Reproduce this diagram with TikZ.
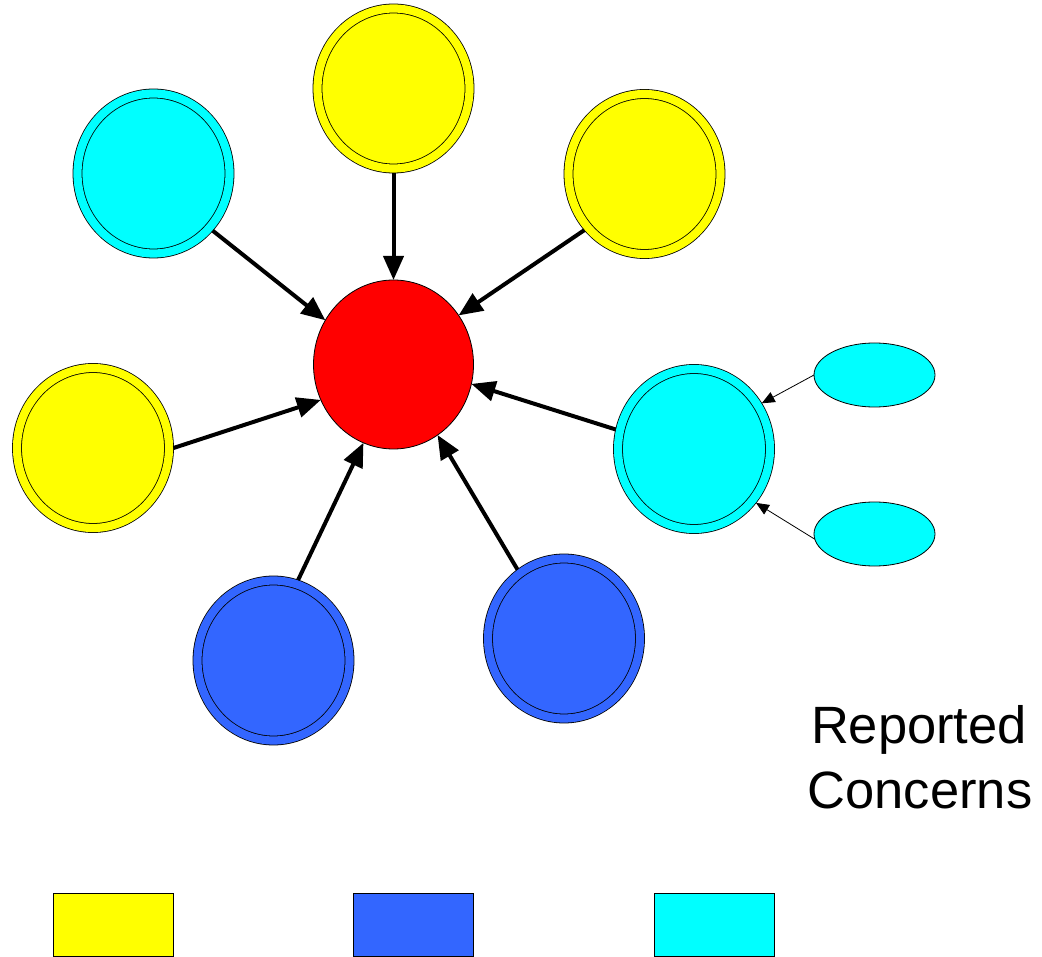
\documentclass[tikz,border=0pt]{standalone}
\usepackage{fontspec}
\setmainfont{Liberation Sans}
\usetikzlibrary{shapes.geometric,arrows.meta}
\definecolor{cyellow}{HTML}{FFFF00}
\definecolor{ccyan}{HTML}{00FFFF}
\definecolor{cblue}{HTML}{3366FF}
\definecolor{cred}{HTML}{FF0000}
\tikzset{
  ring/.style={ellipse, draw=black, line width=0.8pt, double=#1, double distance=8.2pt,
    fill=#1, minimum width=152pt, minimum height=160pt, inner sep=0pt, outer sep=4.5pt},
  core/.style={ellipse, draw=black, line width=0.8pt, fill=cred,
    minimum width=160pt, minimum height=169pt, inner sep=0pt, outer sep=0pt},
  bubble/.style={ellipse, draw=black, line width=0.8pt, fill=ccyan,
    minimum width=121pt, minimum height=64pt, inner sep=0pt, outer sep=0pt},
  legendbox/.style={rectangle, draw=black, line width=0.8pt, fill=#1,
    minimum width=120pt, minimum height=63pt, inner sep=0pt, outer sep=0pt},
  feed/.style={line width=4pt, -{Triangle[length=24pt,width=20pt]}},
  subfeed/.style={line width=0.8pt, -{Triangle[length=13pt,width=11pt]}},
  caption/.style={font=\fontsize{52.5}{60}\selectfont, inner sep=0pt, anchor=base},
}
\begin{document}
\begin{tikzpicture}[x=1pt,y=-1pt]
\useasboundingbox (0,0) rectangle (1042,957);

% central concern and the sources around it
\node[core] (hub) at (393.5,364.5) {};
\node[ring=cyellow] (top) at (393.5,88.5) {};
\node[ring=ccyan] (topleft) at (153.5,173.5) {};
\node[ring=cyellow] (topright) at (644.5,174) {};
\node[ring=cyellow] (left) at (93,448) {};
\node[ring=ccyan] (right) at (694,449) {};
\node[ring=cblue] (botleft) at (273.5,660.5) {};
\node[ring=cblue] (botright) at (564,638.5) {};

% small feeders of the right-hand source
\node[bubble] (feedA) at (874.5,375) {};
\node[bubble] (feedB) at (874.5,534) {};

% arrows into the centre
\draw[feed] (top.-90) -- (hub.90);
\draw[feed] (topleft.-44.5) -- (hub.147.8);
\draw[feed] (topright.223.4) -- (hub.37);
\draw[feed] (left.-0.7) -- (hub.206.4);
\draw[feed] (right.166) -- (hub.-14.6);
\draw[feed] (botleft.73.5) -- (hub.249.9);
\draw[feed] (botright.124.7) -- (hub.-58.5);

\draw[subfeed] (feedA.west) -- (right.34);
\draw[subfeed] (feedB.185) -- (right.-41);

% caption
\node[caption] (capA) at (919,743) {Reported};
\node[caption] (capB) at (920,808.5) {Concerns};

% legend swatches
\node[legendbox=cyellow] (keyA) at (113,925) {};
\node[legendbox=cblue] (keyB) at (413,925) {};
\node[legendbox=ccyan] (keyC) at (714,925) {};
\end{tikzpicture}
\end{document}
